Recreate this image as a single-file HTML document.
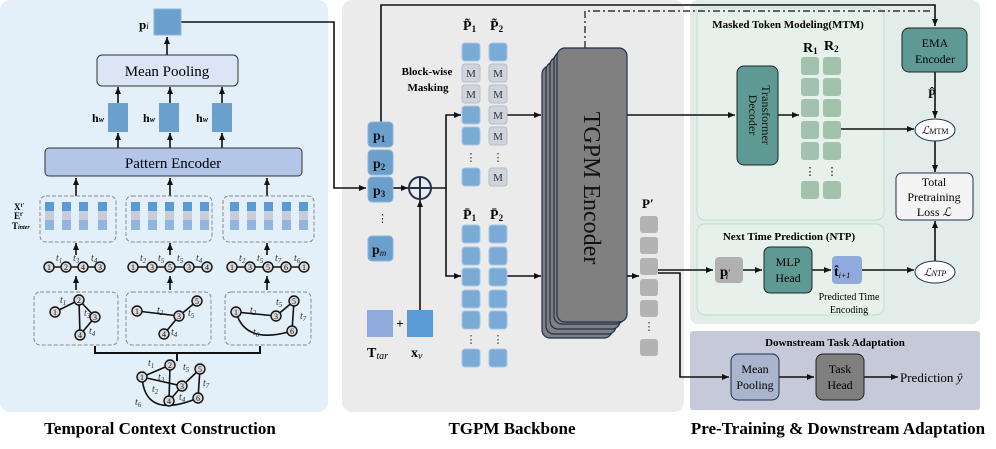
<!DOCTYPE html>
<html><head><meta charset="utf-8"><style>
html,body{margin:0;padding:0;background:#fff;}
svg{display:block;font-family:"Liberation Serif",serif;}
</style></head><body>
<svg width="996" height="449" viewBox="0 0 996 449" xmlns="http://www.w3.org/2000/svg">
<defs>
<marker id="a" markerWidth="8" markerHeight="8" refX="7" refY="4" orient="auto" markerUnits="userSpaceOnUse"><path d="M0,1 L7,4 L0,7 z" fill="#111"/></marker>
</defs>
<rect x="0" y="0" width="328" height="412" rx="10" fill="#e3f0fa"/>
<rect x="342" y="0" width="342" height="412" rx="10" fill="#ebebeb"/>
<rect x="690" y="0" width="290" height="324" rx="8" fill="#e2ece8"/>
<rect x="697" y="8" width="187" height="212" rx="8" fill="#e5f1ea" stroke="#c5dccd"/>
<rect x="697" y="224" width="187" height="91" rx="8" fill="#e5f1ea" stroke="#c5dccd"/>
<rect x="690" y="331" width="290" height="79" rx="3" fill="#c5c9d9"/>

<g stroke="#111" stroke-width="1.6" fill="none">
<line x1="167" y1="55" x2="167" y2="37" marker-end="url(#a)"/>
<line x1="118" y1="103" x2="118" y2="87" marker-end="url(#a)"/>
<line x1="170" y1="103" x2="170" y2="87" marker-end="url(#a)"/>
<line x1="222" y1="103" x2="222" y2="87" marker-end="url(#a)"/>
<line x1="118" y1="148" x2="118" y2="133" marker-end="url(#a)"/>
<line x1="170" y1="148" x2="170" y2="133" marker-end="url(#a)"/>
<line x1="222" y1="148" x2="222" y2="133" marker-end="url(#a)"/>
<line x1="76" y1="196" x2="76" y2="178" marker-end="url(#a)"/>
<line x1="170" y1="196" x2="170" y2="178" marker-end="url(#a)"/>
<line x1="267" y1="196" x2="267" y2="178" marker-end="url(#a)"/>
<line x1="76" y1="255" x2="76" y2="243" marker-end="url(#a)"/>
<line x1="170" y1="255" x2="170" y2="243" marker-end="url(#a)"/>
<line x1="267" y1="255" x2="267" y2="243" marker-end="url(#a)"/>
<line x1="76" y1="290" x2="76" y2="276" marker-end="url(#a)"/>
<line x1="170" y1="290" x2="170" y2="276" marker-end="url(#a)"/>
<line x1="267" y1="290" x2="267" y2="276" marker-end="url(#a)"/>
<path d="M95,346 V353 H260 V346 M177,353 V361" stroke-width="2"/>
<path d="M181,22 H334 V188 H366" marker-end="url(#a)"/>
<path d="M381,122 V5 H935 V26" marker-end="url(#a)"/>
<path d="M393,188 H408" marker-end="url(#a)"/>
<path d="M420,310 V200" marker-end="url(#a)"/>
<path d="M431,188 H446 V115 H461" marker-end="url(#a)"/>
<path d="M446,188 V276 H461" marker-end="url(#a)"/>
<path d="M507,115 H541" marker-end="url(#a)"/>
<path d="M507,276 H541" marker-end="url(#a)"/>
<path d="M626,276 H639" marker-end="url(#a)"/>
<path d="M626,115 H735" marker-end="url(#a)"/>
<path d="M658,270 H713" marker-end="url(#a)"/>
<path d="M658,273 H680 V377 H729" marker-end="url(#a)"/>
<path d="M585,48 V11 H933" stroke-dasharray="7,3,2,3" stroke-width="1.2"/>
<path d="M778,115 H799" marker-end="url(#a)"/>
<path d="M841,129 H914" marker-end="url(#a)"/>
<path d="M935,72 V118" marker-end="url(#a)"/>
<path d="M935,141 V172" marker-end="url(#a)"/>
<path d="M935,261 V221" marker-end="url(#a)"/>
<path d="M743,270 H762" marker-end="url(#a)"/>
<path d="M812,270 H831" marker-end="url(#a)"/>
<path d="M862,270 H914" marker-end="url(#a)"/>
<path d="M779,377 H814" marker-end="url(#a)"/>
<path d="M864,377 H898" marker-end="url(#a)"/>
</g>

<rect x="154" y="9" width="27" height="26" fill="#6ca0cc" stroke="#8bb5d8"/>
<text x="139" y="29" font-size="13" font-weight="bold">p<tspan font-size="9" font-style="italic" font-weight="normal">i</tspan></text>
<rect x="97" y="55" width="141" height="31" rx="5" fill="#dbe5f5" stroke="#333"/>
<text x="167" y="76" font-size="15" text-anchor="middle">Mean Pooling</text>
<g fill="#6ca0cc"><rect x="108" y="103" width="20" height="29"/><rect x="159" y="103" width="20" height="29"/><rect x="212" y="103" width="20" height="29"/></g>
<g font-size="12" font-weight="bold"><text x="92" y="122">h<tspan font-size="8" font-style="italic">w</tspan></text><text x="143" y="122">h<tspan font-size="8" font-style="italic">w</tspan></text><text x="196" y="122">h<tspan font-size="8" font-style="italic">w</tspan></text></g>
<rect x="45" y="148" width="257" height="28" rx="4" fill="#b3c6e8" stroke="#333"/>
<text x="173" y="168" font-size="15" text-anchor="middle">Pattern Encoder</text>
<g fill="none" stroke="#888" stroke-dasharray="4,2"><rect x="40" y="196" width="76" height="46" rx="6"/><rect x="126" y="196" width="86" height="46" rx="6"/><rect x="223" y="196" width="91" height="46" rx="6"/>
<rect x="34" y="292" width="84" height="53" rx="6"/><rect x="126" y="292" width="85" height="53" rx="6"/><rect x="225" y="292" width="86" height="53" rx="6"/></g>
<g id="tok">
<rect x="45" y="202" width="9" height="9" fill="#5b9bd5"/><rect x="45" y="211" width="9" height="9" fill="#c8ccd6"/><rect x="45" y="220" width="9" height="10" fill="#94b4e0"/>
</g>
<g>
<use href="#tok" x="17"/><use href="#tok" x="34"/><use href="#tok" x="53"/>
<use href="#tok" x="86"/><use href="#tok" x="103"/><use href="#tok" x="120"/><use href="#tok" x="138"/><use href="#tok" x="155"/>
<use href="#tok" x="185"/><use href="#tok" x="202"/><use href="#tok" x="219"/><use href="#tok" x="237"/><use href="#tok" x="254"/>
</g>
<g font-size="9" font-weight="bold"><text x="14" y="210">X<tspan font-size="6" dy="-3">t'</tspan></text><text x="14" y="219">E<tspan font-size="6" dy="-3">t'</tspan></text><text x="12" y="229">T<tspan font-size="6" font-style="italic">inter</tspan></text></g>

<g stroke="#111" stroke-width="1.6"><line x1="49" y1="267" x2="100" y2="267"/><line x1="133" y1="267" x2="207" y2="267"/><line x1="232" y1="267" x2="304" y2="267"/>
<line x1="55" y1="312" x2="79" y2="300"/><line x1="79" y1="300" x2="80" y2="335"/><line x1="79" y1="300" x2="95" y2="317"/><line x1="95" y1="317" x2="80" y2="335"/>
<line x1="137" y1="311" x2="179" y2="316"/><line x1="179" y1="316" x2="197" y2="301"/><line x1="179" y1="316" x2="164" y2="334"/>
<line x1="236" y1="312" x2="276" y2="316"/><line x1="276" y1="316" x2="294" y2="301"/><line x1="294" y1="301" x2="292" y2="331"/><path d="M236,312 Q245,345 292,331" fill="none"/>
<line x1="142" y1="377" x2="170" y2="365"/><line x1="142" y1="377" x2="182" y2="386"/><line x1="170" y1="365" x2="169" y2="401"/><line x1="182" y1="386" x2="200" y2="369"/><line x1="182" y1="386" x2="169" y2="401"/><line x1="200" y1="369" x2="198" y2="398"/><path d="M142,377 Q145,420 198,398" fill="none"/></g>
<g fill="#d9d9d9" stroke="#111" stroke-width="1.4">
<circle cx="49" cy="267" r="5"/><circle cx="66" cy="267" r="5"/><circle cx="83" cy="267" r="5"/><circle cx="100" cy="267" r="5"/>
<circle cx="133" cy="267" r="5"/><circle cx="152" cy="267" r="5"/><circle cx="170" cy="267" r="5"/><circle cx="189" cy="267" r="5"/><circle cx="207" cy="267" r="5"/>
<circle cx="232" cy="267" r="5"/><circle cx="250" cy="267" r="5"/><circle cx="268" cy="267" r="5"/><circle cx="286" cy="267" r="5"/><circle cx="304" cy="267" r="5"/>
<circle cx="55" cy="312" r="5"/><circle cx="79" cy="300" r="5"/><circle cx="95" cy="317" r="5"/><circle cx="80" cy="335" r="5"/>
<circle cx="137" cy="311" r="5"/><circle cx="179" cy="316" r="5"/><circle cx="197" cy="301" r="5"/><circle cx="164" cy="334" r="5"/>
<circle cx="236" cy="312" r="5"/><circle cx="276" cy="316" r="5"/><circle cx="294" cy="301" r="5"/><circle cx="292" cy="331" r="5"/>
<circle cx="142" cy="377" r="5"/><circle cx="170" cy="365" r="5"/><circle cx="182" cy="386" r="5"/><circle cx="200" cy="369" r="5"/><circle cx="169" cy="401" r="5"/><circle cx="198" cy="398" r="5"/></g>
<g font-size="8" text-anchor="middle" fill="#111">
<text x="49" y="270">1</text><text x="66" y="270">2</text><text x="83" y="270">4</text><text x="100" y="270">3</text>
<text x="133" y="270">1</text><text x="152" y="270">3</text><text x="170" y="270">5</text><text x="189" y="270">3</text><text x="207" y="270">4</text>
<text x="232" y="270">1</text><text x="250" y="270">3</text><text x="268" y="270">5</text><text x="286" y="270">6</text><text x="304" y="270">1</text>
<text x="55" y="315">1</text><text x="79" y="303">2</text><text x="95" y="320">3</text><text x="80" y="338">4</text>
<text x="137" y="314">1</text><text x="179" y="319">3</text><text x="197" y="304">5</text><text x="164" y="337">4</text>
<text x="236" y="315">1</text><text x="276" y="319">3</text><text x="294" y="304">5</text><text x="292" y="334">6</text>
<text x="142" y="380">1</text><text x="170" y="368">2</text><text x="182" y="389">3</text><text x="200" y="372">5</text><text x="169" y="404">4</text><text x="198" y="401">6</text>
</g>
<g font-size="10" font-style="italic" fill="#333">
<text x="56" y="261">t<tspan font-size="7" dy="2">1</tspan></text><text x="73" y="261">t<tspan font-size="7" dy="2">3</tspan></text><text x="91" y="261">t<tspan font-size="7" dy="2">4</tspan></text>
<text x="140" y="261">t<tspan font-size="7" dy="2">2</tspan></text><text x="158" y="261">t<tspan font-size="7" dy="2">5</tspan></text><text x="177" y="261">t<tspan font-size="7" dy="2">5</tspan></text><text x="196" y="261">t<tspan font-size="7" dy="2">4</tspan></text>
<text x="239" y="261">t<tspan font-size="7" dy="2">2</tspan></text><text x="257" y="261">t<tspan font-size="7" dy="2">5</tspan></text><text x="275" y="261">t<tspan font-size="7" dy="2">7</tspan></text><text x="294" y="261">t<tspan font-size="7" dy="2">6</tspan></text>
<text x="60" y="303">t<tspan font-size="7" dy="2">1</tspan></text><text x="84" y="316">t<tspan font-size="7" dy="2">3</tspan></text><text x="89" y="334">t<tspan font-size="7" dy="2">4</tspan></text>
<text x="157" y="313">t<tspan font-size="7" dy="2">2</tspan></text><text x="188" y="316">t<tspan font-size="7" dy="2">5</tspan></text><text x="171" y="335">t<tspan font-size="7" dy="2">4</tspan></text>
<text x="250" y="313">t<tspan font-size="7" dy="2">2</tspan></text><text x="276" y="305">t<tspan font-size="7" dy="2">5</tspan></text><text x="300" y="319">t<tspan font-size="7" dy="2">7</tspan></text><text x="253" y="335">t<tspan font-size="7" dy="2">6</tspan></text>
<text x="148" y="366">t<tspan font-size="7" dy="2">1</tspan></text><text x="158" y="380">t<tspan font-size="7" dy="2">3</tspan></text><text x="152" y="392">t<tspan font-size="7" dy="2">2</tspan></text><text x="183" y="370">t<tspan font-size="7" dy="2">5</tspan></text><text x="179" y="400">t<tspan font-size="7" dy="2">4</tspan></text><text x="203" y="386">t<tspan font-size="7" dy="2">7</tspan></text><text x="135" y="405">t<tspan font-size="7" dy="2">6</tspan></text>
</g>

<g fill="#6ca0cc" stroke="#8bb5d8"><rect x="368" y="122" width="25" height="25" rx="4"/><rect x="368" y="150" width="25" height="25" rx="4"/><rect x="368" y="177" width="25" height="25" rx="4"/><rect x="368" y="236" width="25" height="25" rx="4"/></g>
<g font-size="14" font-weight="bold" fill="#111"><text x="373" y="140">p<tspan font-size="9" dy="2">1</tspan></text><text x="373" y="168">p<tspan font-size="9" dy="2">2</tspan></text><text x="373" y="195">p<tspan font-size="9" dy="2">3</tspan></text><text x="372" y="254">p<tspan font-size="9" dy="2" font-style="italic" font-weight="normal">m</tspan></text></g>
<text x="377" y="222" font-size="11">⋮</text>
<circle cx="420" cy="188" r="11" fill="none" stroke="#1f3050" stroke-width="2"/>
<path d="M409,188 H431 M420,177 V199" stroke="#1f3050" stroke-width="2"/>
<rect x="367" y="310" width="26" height="27" fill="#8faadc"/>
<text x="400" y="328" font-size="13" font-weight="bold" text-anchor="middle">+</text>
<rect x="407" y="310" width="26" height="27" fill="#5b9bd5"/>
<text x="367" y="357" font-size="14" font-weight="bold">T<tspan font-size="10" font-style="italic" font-weight="normal" dy="2">tar</tspan></text>
<text x="411" y="357" font-size="14" font-weight="bold">x<tspan font-size="10" font-style="italic" font-weight="normal" dy="2">v</tspan></text>
<text x="427" y="75" font-size="11" font-weight="bold" text-anchor="middle">Block-wise</text>
<text x="428" y="91" font-size="11" font-weight="bold" text-anchor="middle">Masking</text>
<g font-size="14" font-weight="bold"><text x="463" y="30">P̃<tspan font-size="9" dy="2">1</tspan></text><text x="490" y="30">P̃<tspan font-size="9" dy="2">2</tspan></text>
<text x="463" y="219">P̄<tspan font-size="9" dy="2">1</tspan></text><text x="490" y="219">P̄<tspan font-size="9" dy="2">2</tspan></text></g>
<g fill="#7aaad6" stroke="#a8c6e4">
<rect x="462" y="43" width="18" height="18" rx="3"/><rect x="489" y="43" width="18" height="18" rx="3"/>
<rect x="462" y="106" width="18" height="18" rx="3"/><rect x="462" y="127" width="18" height="18" rx="3"/><rect x="462" y="168" width="18" height="18" rx="3"/>
<rect x="462" y="225" width="18" height="18" rx="3"/><rect x="462" y="247" width="18" height="18" rx="3"/><rect x="462" y="268" width="18" height="18" rx="3"/><rect x="462" y="290" width="18" height="18" rx="3"/><rect x="462" y="311" width="18" height="18" rx="3"/><rect x="462" y="349" width="18" height="18" rx="3"/>
<rect x="489" y="225" width="18" height="18" rx="3"/><rect x="489" y="247" width="18" height="18" rx="3"/><rect x="489" y="268" width="18" height="18" rx="3"/><rect x="489" y="290" width="18" height="18" rx="3"/><rect x="489" y="311" width="18" height="18" rx="3"/><rect x="489" y="349" width="18" height="18" rx="3"/>
</g>
<g fill="#cfd3dc" stroke="#b8bcc6">
<rect x="462" y="64" width="18" height="18" rx="3"/><rect x="462" y="85" width="18" height="18" rx="3"/>
<rect x="489" y="64" width="18" height="18" rx="3"/><rect x="489" y="85" width="18" height="18" rx="3"/><rect x="489" y="106" width="18" height="18" rx="3"/><rect x="489" y="127" width="18" height="18" rx="3"/><rect x="489" y="168" width="18" height="18" rx="3"/>
</g>
<g font-size="11" text-anchor="middle" fill="#333"><text x="471" y="77">M</text><text x="471" y="98">M</text><text x="498" y="77">M</text><text x="498" y="98">M</text><text x="498" y="119">M</text><text x="498" y="140">M</text><text x="498" y="181">M</text>
<text x="471" y="161">⋮</text><text x="498" y="161">⋮</text><text x="471" y="343">⋮</text><text x="498" y="343">⋮</text><text x="649" y="330">⋮</text></g>
<g fill="#808080" stroke="#1f3050" stroke-width="1.2">
<rect x="542" y="66" width="70" height="272" rx="8"/><rect x="546" y="62" width="70" height="272" rx="8"/><rect x="550" y="57" width="70" height="272" rx="8"/><rect x="554" y="52" width="70" height="272" rx="8"/><rect x="557" y="48" width="70" height="274" rx="8"/>
</g>
<text transform="translate(584,188) rotate(90)" font-size="24" text-anchor="middle" fill="#111">TGPM Encoder</text>
<text x="642" y="208" font-size="13" font-weight="bold">P′</text>
<g fill="#b3b3b3"><rect x="640" y="216" width="18" height="17" rx="3"/><rect x="640" y="237" width="18" height="17" rx="3"/><rect x="640" y="258" width="18" height="17" rx="3"/><rect x="640" y="279" width="18" height="17" rx="3"/><rect x="640" y="300" width="18" height="17" rx="3"/><rect x="640" y="339" width="18" height="17" rx="3"/></g>

<text x="788" y="28" font-size="11" font-weight="bold" text-anchor="middle">Masked Token Modeling(MTM)</text>
<rect x="737" y="66" width="41" height="99" rx="7" fill="#5e9a93" stroke="#222"/>
<text transform="translate(762,115) rotate(90)" font-size="12" text-anchor="middle" fill="#111">Transformer</text>
<text transform="translate(749,115) rotate(90)" font-size="12" text-anchor="middle" fill="#111">Decoder</text>
<text x="803" y="52" font-size="14" font-weight="bold">R<tspan font-size="9" dy="2">1</tspan></text><text x="824" y="50" font-size="14" font-weight="bold">R<tspan font-size="9" dy="2">2</tspan></text>
<g fill="#a2c2ae">
<rect x="801" y="57" width="18" height="18" rx="3"/><rect x="823" y="57" width="18" height="18" rx="3"/><rect x="801" y="78" width="18" height="18" rx="3"/><rect x="823" y="78" width="18" height="18" rx="3"/><rect x="801" y="99" width="18" height="18" rx="3"/><rect x="823" y="99" width="18" height="18" rx="3"/><rect x="801" y="121" width="18" height="18" rx="3"/><rect x="823" y="121" width="18" height="18" rx="3"/><rect x="801" y="142" width="18" height="18" rx="3"/><rect x="823" y="142" width="18" height="18" rx="3"/><rect x="801" y="181" width="18" height="18" rx="3"/><rect x="823" y="181" width="18" height="18" rx="3"/></g>
<text x="810" y="175" font-size="11" text-anchor="middle">⋮</text><text x="832" y="175" font-size="11" text-anchor="middle">⋮</text>
<rect x="902" y="28" width="65" height="44" rx="7" fill="#5e9a93" stroke="#222"/>
<text x="935" y="47" font-size="12" text-anchor="middle">EMA</text><text x="935" y="63" font-size="12" text-anchor="middle">Encoder</text>
<text x="928" y="98" font-size="13" font-weight="bold">P̂</text>
<ellipse cx="935" cy="130" rx="20" ry="11" fill="#fff" stroke="#1f3050"/>
<text x="935" y="134" font-size="11" text-anchor="middle" font-style="italic">ℒ<tspan font-style="normal" font-size="8">MTM</tspan></text>
<rect x="896" y="173" width="77" height="47" rx="6" fill="#f4f4f4" stroke="#1f3050"/>
<text x="934" y="186" font-size="12" text-anchor="middle">Total</text><text x="934" y="201" font-size="12" text-anchor="middle">Pretraining</text><text x="934" y="216" font-size="12" text-anchor="middle">Loss <tspan font-style="italic">ℒ</tspan></text>
<text x="789" y="240" font-size="11" font-weight="bold" text-anchor="middle">Next Time Prediction (NTP)</text>
<rect x="715" y="257" width="28" height="26" rx="4" fill="#b0b0b0"/>
<text x="720" y="276" font-size="14" font-weight="bold">p<tspan font-size="9" font-style="italic" font-weight="normal">′</tspan><tspan font-size="9" font-style="italic" font-weight="normal" dx="-4" dy="3">i</tspan></text>
<rect x="764" y="247" width="48" height="46" rx="6" fill="#5e9a93" stroke="#222"/>
<text x="788" y="266" font-size="12" text-anchor="middle">MLP</text><text x="788" y="282" font-size="12" text-anchor="middle">Head</text>
<rect x="832" y="256" width="30" height="28" rx="4" fill="#8faadc"/>
<text x="834" y="276" font-size="14" font-weight="bold">t̂<tspan font-size="8" font-style="italic" font-weight="normal" dy="2">i+1</tspan></text>
<text x="849" y="300" font-size="10" text-anchor="middle">Predicted Time</text><text x="849" y="313" font-size="10" text-anchor="middle">Encoding</text>
<ellipse cx="935" cy="272" rx="20" ry="11" fill="#fff" stroke="#1f3050"/>
<text x="935" y="276" font-size="11" text-anchor="middle" font-style="italic">ℒ<tspan font-size="8">NTP</tspan></text>
<text x="835" y="346" font-size="11" font-weight="bold" text-anchor="middle">Downstream Task Adaptation</text>
<rect x="731" y="354" width="48" height="46" rx="7" fill="#aab4cc" stroke="#1f3050"/>
<text x="755" y="373" font-size="12" text-anchor="middle">Mean</text><text x="755" y="389" font-size="12" text-anchor="middle">Pooling</text>
<rect x="816" y="354" width="48" height="46" rx="7" fill="#7f7f7f" stroke="#222"/>
<text x="840" y="373" font-size="12" text-anchor="middle">Task</text><text x="840" y="389" font-size="12" text-anchor="middle">Head</text>
<text x="900" y="382" font-size="13">Prediction <tspan font-style="italic">ŷ</tspan></text>

<g font-size="17" font-weight="bold" text-anchor="middle">
<text x="160" y="434">Temporal Context Construction</text>
<text x="512" y="434">TGPM Backbone</text>
<text x="838" y="434">Pre-Training &amp; Downstream Adaptation</text>
</g>
</svg>
</body></html>
